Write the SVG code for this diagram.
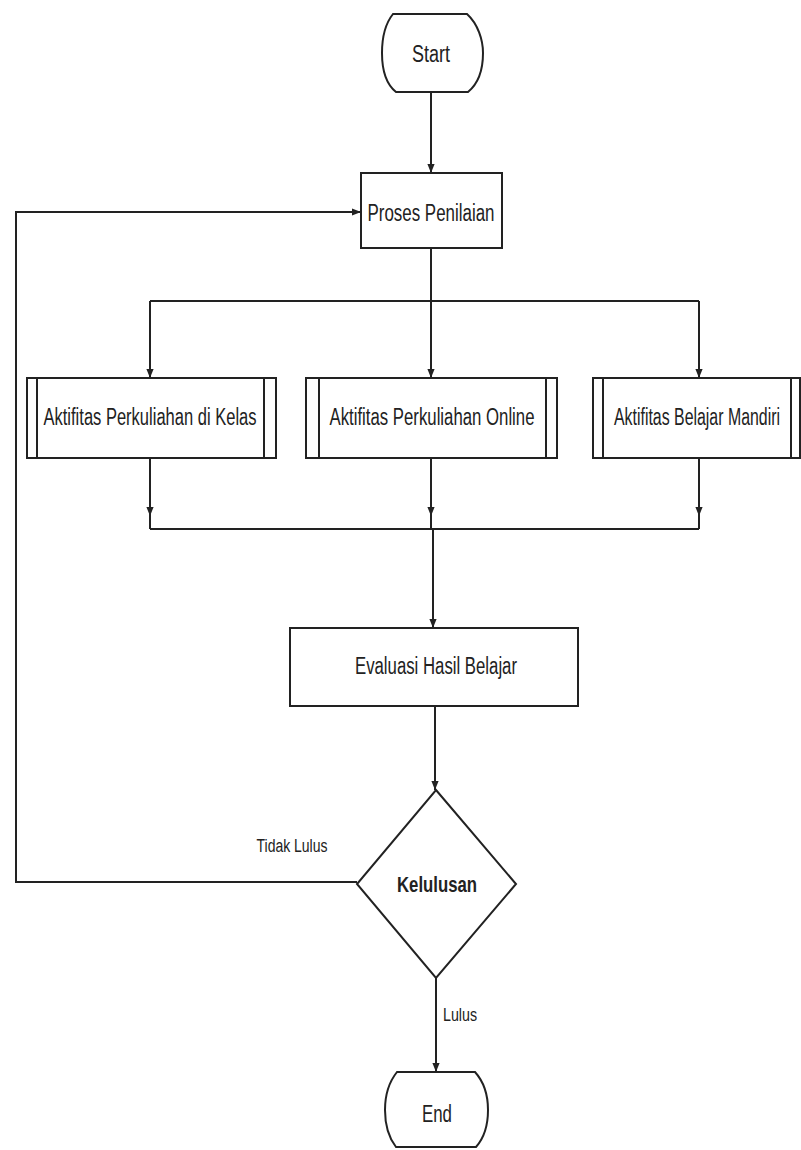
<svg xmlns="http://www.w3.org/2000/svg" width="801" height="1150" viewBox="0 0 801 1150">
<style>
.shape{fill:#fff;stroke:#222;stroke-width:2}
.line{fill:none;stroke:#222;stroke-width:2}
.t{font-family:"Liberation Sans Narrow","Liberation Sans",Arial,sans-serif;fill:#222;text-anchor:middle}
</style>
<defs>
<marker id="ah" viewBox="0 0 10 10" refX="10" refY="5" markerWidth="9" markerHeight="9" markerUnits="userSpaceOnUse" orient="auto">
<path d="M0,1 L10,5 L0,9 Z" fill="#222"/>
</marker>
</defs>
<g id="connectors">
<path class="line" d="M431,93 L431,173" marker-end="url(#ah)"/>
<path class="line" d="M431,248 L431,301"/>
<path class="line" d="M150,301 L699,301"/>
<path class="line" d="M150,301 L150,378" marker-end="url(#ah)"/>
<path class="line" d="M431,301 L431,378" marker-end="url(#ah)"/>
<path class="line" d="M699,301 L699,378" marker-end="url(#ah)"/>
<path class="line" d="M150,458 L150,516" marker-end="url(#ah)"/>
<path class="line" d="M150,514 L150,529"/>
<path class="line" d="M431,458 L431,516" marker-end="url(#ah)"/>
<path class="line" d="M431,514 L431,529"/>
<path class="line" d="M699,458 L699,516" marker-end="url(#ah)"/>
<path class="line" d="M699,514 L699,529"/>
<path class="line" d="M150,529 L699,529"/>
<path class="line" d="M433,529 L433,628" marker-end="url(#ah)"/>
<path class="line" d="M435,706 L435,790" marker-end="url(#ah)"/>
<path class="line" d="M357,882 L16,882 L16,212 L361,212" marker-end="url(#ah)"/>
<path class="line" d="M436,978 L436,1072" marker-end="url(#ah)"/>
<text class="t" x="292" y="852" font-size="18" textLength="71" lengthAdjust="spacingAndGlyphs">Tidak Lulus</text>
<text class="t" x="460" y="1021" font-size="19" textLength="34" lengthAdjust="spacingAndGlyphs">Lulus</text>
</g>
<g id="start">
<path class="shape" d="M393,14 L467,14 C478,24 483,40 483,53 C483,70 479,83 468,92 L396,92 C386,84 382,70 382,53 C382,38 385,24 393,14 Z"/>
<text class="t" x="431" y="62" font-size="23" textLength="38" lengthAdjust="spacingAndGlyphs">Start</text>
</g>
<g id="proses">
<rect class="shape" x="361" y="173" width="141" height="75"/>
<text class="t" x="431" y="221" font-size="23" textLength="127" lengthAdjust="spacingAndGlyphs">Proses Penilaian</text>
</g>
<g id="kelas">
<rect class="shape" x="27" y="378" width="249" height="80"/>
<path class="line" d="M37,378 L37,458 M264,378 L264,458"/>
<text class="t" x="150" y="425" font-size="23" textLength="213" lengthAdjust="spacingAndGlyphs">Aktifitas Perkuliahan di Kelas</text>
</g>
<g id="online">
<rect class="shape" x="306" y="378" width="251" height="80"/>
<path class="line" d="M319,378 L319,458 M546,378 L546,458"/>
<text class="t" x="432" y="425" font-size="23" textLength="205" lengthAdjust="spacingAndGlyphs">Aktifitas Perkuliahan Online</text>
</g>
<g id="mandiri">
<rect class="shape" x="593" y="378" width="207" height="80"/>
<path class="line" d="M603,378 L603,458 M791,378 L791,458"/>
<text class="t" x="697" y="425" font-size="23" textLength="166" lengthAdjust="spacingAndGlyphs">Aktifitas Belajar Mandiri</text>
</g>
<g id="evaluasi">
<rect class="shape" x="290" y="628" width="288" height="78"/>
<text class="t" x="436" y="674" font-size="23" textLength="162" lengthAdjust="spacingAndGlyphs">Evaluasi Hasil Belajar</text>
</g>
<g id="kelulusan">
<path class="shape" d="M436,790 L516,884 L436,978 L357,884 Z"/>
<text class="t" x="437" y="892" font-size="22" font-weight="bold" textLength="80" lengthAdjust="spacingAndGlyphs">Kelulusan</text>
</g>
<g id="end">
<path class="shape" d="M397,1072 L475,1072 C484,1082 488,1096 488,1110 C488,1126 484,1138 476,1147 L396,1147 C389,1138 385,1126 385,1110 C385,1096 389,1082 397,1072 Z"/>
<text class="t" x="437" y="1122" font-size="23" textLength="30" lengthAdjust="spacingAndGlyphs">End</text>
</g>
</svg>
